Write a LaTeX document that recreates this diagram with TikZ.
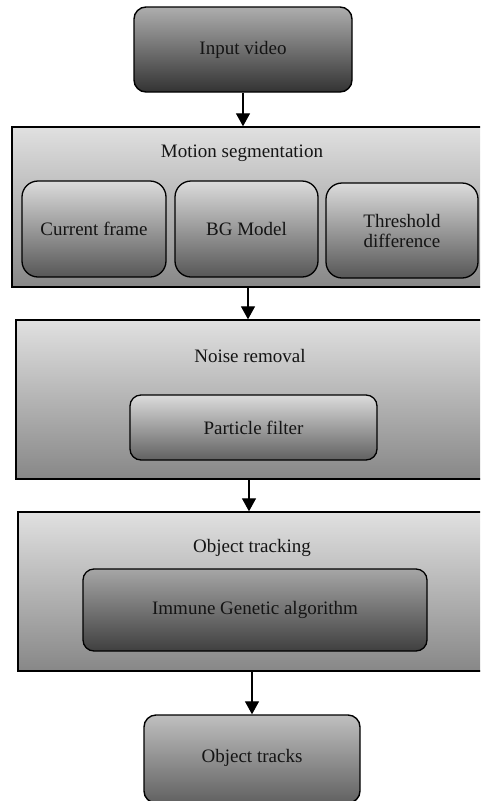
\documentclass[tikz,border=0pt]{standalone}
\usepackage{fontspec}
\setmainfont{Liberation Serif}
\usetikzlibrary{arrows.meta,calc}

\tikzset{
  stage/.style={draw=black, line width=1.4pt, rectangle, inner sep=0pt,
    top color=black!12, bottom color=black!47},
  endbox/.style={draw=black, line width=1.4pt, rectangle, rounded corners=12pt, inner sep=0pt},
  subbox/.style={draw=black, line width=1.3pt, rectangle, rounded corners=16pt, inner sep=0pt,
    top color=black!14, bottom color=black!66, align=center},
  label/.style={text=black!92, font=\fontsize{19}{22}\selectfont},
  flow/.style={draw=black, line width=1.3pt, -{Triangle[length=13pt,width=14pt]}}
}

\begin{document}
\begin{tikzpicture}[x=1pt, y=-1pt, every node/.style={label}]
\useasboundingbox (0,0) rectangle (480,801);
\clip (0,0) rectangle (480,801);

% input
\node[endbox, top color=black!32, bottom color=black!80, minimum width=218pt, minimum height=85pt]
  (inp) at (243,49.5) {Input video};

% motion segmentation stage
\node[stage, minimum width=478pt, minimum height=160pt] (seg) at (251,207) {};
\node (segt) at (242,153) {Motion segmentation};
\node[subbox, minimum width=144pt, minimum height=96pt] (cur) at (94,229) {Current frame};
\node[subbox, minimum width=143pt, minimum height=96pt] (bgm) at (246.5,229) {BG Model};
\node[subbox, minimum width=152pt, minimum height=95pt] (thr) at (402,230.5)
  {Threshold\\[-2pt]difference};

% noise removal stage
\node[stage, minimum width=474pt, minimum height=159pt] (noise) at (253,399.5) {};
\node (noiset) at (250,356) {Noise removal};
\node[subbox, rounded corners=11pt, top color=black!14, bottom color=black!62,
  minimum width=247pt, minimum height=65pt] (pf) at (253.5,427.5) {Particle filter};

% object tracking stage
\node[stage, minimum width=472pt, minimum height=159pt] (track) at (254,591.5) {};
\node (trackt) at (252,548) {Object tracking};
\node[subbox, rounded corners=11pt, top color=black!35, bottom color=black!75,
  minimum width=344pt, minimum height=82pt] (iga) at (255,610) {Immune Genetic algorithm};

% output
\node[endbox, top color=black!25, bottom color=black!62, minimum width=216pt, minimum height=88pt]
  (out) at (252,759) {};
\node at (252,758) {Object tracks};

% connectors
\draw[flow] (inp.south) -- (inp.south |- seg.north);
\draw[flow] (seg.south -| 248,0) -- (noise.north -| 248,0);
\draw[flow] (noise.south -| 249,0) -- (track.north -| 249,0);
\draw[flow] (track.south -| out.north) -- (out.north);
\end{tikzpicture}
\end{document}
